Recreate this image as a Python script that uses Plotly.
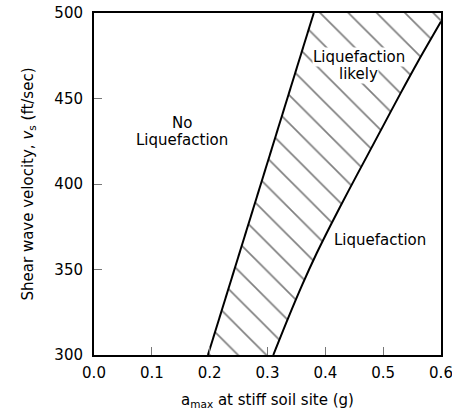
import plotly.graph_objects as go

# Axis ranges / ticks
x_range = [0.0, 0.6]
y_range = [300, 500]
x_ticks = [0.0, 0.1, 0.2, 0.3, 0.4, 0.5, 0.6]
x_tick_labels = ["0.0", "0.1", "0.2", "0.3", "0.4", "0.5", "0.6"]
y_ticks = [300, 350, 400, 450, 500]
y_tick_labels = ["300", "350", "400", "450", "500"]

# Left boundary (No liquefaction / Liquefaction likely)
left_x = [0.197, 0.296, 0.38]
left_y = [300, 408, 500]

# Right boundary (Liquefaction likely / Liquefaction)
right_x = [0.31, 0.335, 0.36, 0.385, 0.41, 0.44, 0.47, 0.50, 0.53, 0.56, 0.60]
right_y = [300, 321, 341, 359.5, 376.5, 396, 415, 434, 453, 471.5, 495]

# Region labels (one entry per text line)
label_text = ["No", "Liquefaction", "Liquefaction", "likely", "Liquefaction"]
label_x = [0.153, 0.153, 0.458, 0.458, 0.495]
label_y = [435.5, 425.5, 474.5, 464.5, 367]
label_bg = [False, False, True, True, False]

FONT = "DejaVu Sans"

# hatched region polygon built from the boundary arrays and the axis corner
poly_x = left_x + [x_range[1]] + right_x[::-1]
poly_y = left_y + [y_range[1]] + right_y[::-1]

fig = go.Figure()
fig.add_trace(go.Scatter(
    x=poly_x, y=poly_y, mode="lines", fill="toself",
    line=dict(width=0, color="rgba(0,0,0,0)"),
    fillcolor="white",
    fillpattern=dict(shape="\\", size=20, solidity=0.085, fgcolor="black", bgcolor="white"),
    hoverinfo="skip", showlegend=False,
))
fig.add_trace(go.Scatter(x=left_x, y=left_y, mode="lines",
                         line=dict(color="black", width=2), showlegend=False))
fig.add_trace(go.Scatter(x=right_x, y=right_y, mode="lines",
                         line=dict(color="black", width=2, shape="spline", smoothing=0.8),
                         showlegend=False))

for t, x, y, bg in zip(label_text, label_x, label_y, label_bg):
    fig.add_annotation(x=x, y=y, text=t, showarrow=False,
                       font=dict(family=FONT, size=15, color="black"),
                       bgcolor="white" if bg else "rgba(0,0,0,0)",
                       borderpad=0)

axis_common = dict(
    showline=True, linecolor="black", linewidth=2, mirror=True,
    showgrid=False, zeroline=False, automargin=False,
    ticks="inside", ticklen=8, tickwidth=1, tickcolor="#777",
    ticklabeloverflow="allow",
    tickfont=dict(family=FONT, size=15, color="black"),
)

fig.update_xaxes(range=x_range, tickvals=x_ticks, ticktext=x_tick_labels,
                 ticklabelstandoff=3,
                 title=dict(text="a<sub>max</sub> at stiff soil site (g)",
                            font=dict(family=FONT, size=15, color="black"), standoff=13),
                 **axis_common)
fig.update_yaxes(range=y_range, tickvals=y_ticks, ticktext=y_tick_labels,
                 ticklabelstandoff=6,
                 title=dict(text="Shear wave velocity, <i>v</i><sub>s</sub> (ft/sec)",
                            font=dict(family=FONT, size=15, color="black"), standoff=17),
                 **axis_common)

fig.update_layout(
    width=452, height=418,
    margin=dict(l=94, r=11, t=13, b=63),
    plot_bgcolor="white", paper_bgcolor="white",
    showlegend=False,
)

fig.write_html("out.html", config={"displayModeBar": False},
               post_script="document.body.style.margin='0';document.body.style.overflow='hidden';")
